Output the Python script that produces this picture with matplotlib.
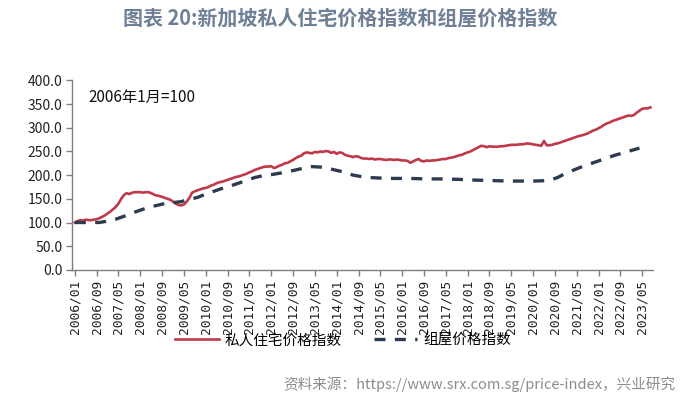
import numpy as np
import matplotlib.pyplot as plt

plt.rcParams['font.family'] = ['Noto Sans CJK SC', 'DejaVu Sans']

# --- data (2006/01 = 100) ---
# private residential price index, monthly from 2006/01
private_idx = [
    100, 103, 105, 104, 106, 105, 105, 106, 107, 109, 112, 115,  # 2006
    119, 123, 128, 133, 140, 150, 158, 162, 160, 163, 164, 164,  # 2007
    164, 163, 164, 164, 162, 159, 157, 156, 154, 152, 150, 148,  # 2008
    144, 140, 137, 136, 138, 144, 152, 163, 166, 168, 170, 172,  # 2009
    173, 175, 178, 180, 183, 185, 186, 188, 190, 192, 194, 196,  # 2010
    197, 199, 201, 203, 206, 208, 211, 213, 215, 217, 218, 218,  # 2011
    219, 215, 217, 220, 222, 225, 226, 229, 232, 236, 239, 241,  # 2012
    246, 248, 247, 246, 249, 248, 250, 249, 251, 250, 247, 249,  # 2013
    245, 248, 247, 243, 241, 240, 238, 240, 239, 236, 235, 235,  # 2014
    234, 235, 233, 234, 234, 233, 232, 233, 233, 232, 233, 232,  # 2015
    231, 231, 230, 226, 229, 232, 234, 230, 229, 231, 230, 231,  # 2016
    231, 232, 233, 234, 234, 236, 237, 238, 240, 242, 243, 246,  # 2017
    248, 250, 253, 256, 259, 262, 261, 259, 261, 260, 260, 260,  # 2018
    261, 261, 262, 263, 264, 264, 264, 265, 265, 266, 267, 266,  # 2019
    265, 264, 263, 262, 272, 263, 263, 264, 266, 267, 269, 271,  # 2020
    273, 275, 277, 279, 281, 283, 284, 286, 288, 291, 294, 296,  # 2021
    299, 302, 306, 309, 311, 314, 316, 318, 320, 322, 324, 326,  # 2022
    325, 327, 332, 336, 340, 341, 341, 343,                      # 2023
]

# HDB resale index, quarterly from 2006Q1
hdb_idx = [
    100, 100, 100, 100,   # 2006
    103, 107, 113, 120,   # 2007
    126, 132, 136, 140,   # 2008
    142, 144, 149, 153,   # 2009
    160, 166, 172, 177,   # 2010
    183, 189, 195, 199,   # 2011
    201, 204, 207, 211,   # 2012
    215, 218, 217, 214,   # 2013
    210, 206, 200, 197,   # 2014
    195, 194, 193.5, 193, # 2015
    193, 193, 192.5, 192, # 2016
    192, 192, 191.5, 191, # 2017
    190, 189.5, 189, 188.5,  # 2018
    188, 187.5, 187.5, 187.5,  # 2019
    187.5, 188, 189, 195,  # 2020
    204, 211, 218, 224,   # 2021
    230, 236, 242, 247,   # 2022
    252, 257,             # 2023
]

# x tick labels every 8 months
tick_labels = []
for k in range(27):
    m = k * 8
    tick_labels.append(f"{2006 + m // 12}/{m % 12 + 1:02d}")

title = '图表 20:新加坡私人住宅价格指数和组屋价格指数'
source = '资料来源：https://www.srx.com.sg/price-index，兴业研究'

red = '#c0394b'
navy = '#2e3b4e'
gray = '#7f7f7f'

fig = plt.figure(figsize=(7.0, 4.04), dpi=100)
ax = fig.add_axes([0.103, 0.332, 0.830, 0.469])

x_priv = np.arange(len(private_idx))
x_hdb = np.arange(len(hdb_idx)) * 3

ax.plot(x_priv, private_idx, color=red, lw=1.9, label='私人住宅价格指数')
ax.plot(x_hdb, hdb_idx, color=navy, lw=2.4, dashes=(3.3, 2.8),
        label='组屋价格指数')

ax.set_ylim(0, 400)
ax.set_yticks(np.arange(0, 401, 50))
ax.set_yticklabels([f"{v:.1f}" for v in np.arange(0, 401, 50)])
ax.set_xlim(-1, 212)
ax.set_xticks(np.arange(27) * 8)
ax.set_xticklabels(tick_labels, rotation=90, family='DejaVu Sans Mono',
                   fontsize=9.3, color='#222222')

for s in ['top', 'right']:
    ax.spines[s].set_visible(False)
for s in ['left', 'bottom']:
    ax.spines[s].set_color(gray)
    ax.spines[s].set_linewidth(1.0)
ax.tick_params(axis='both', direction='out', length=4, width=1.0, color=gray)
ax.tick_params(axis='y', labelsize=10, labelcolor='#222222', pad=3)
ax.tick_params(axis='x', pad=3)

ax.text(0.028, 0.955, '2006年1月=100', transform=ax.transAxes,
        fontsize=11, va='top', ha='left', color='#111111')

fig.text(0.486, 0.955, title, ha='center', va='center', fontsize=14.4,
         fontweight='bold', color='#6e7f96')

leg = fig.legend(loc='center', bbox_to_anchor=(0.49, 0.158), ncol=2,
                 frameon=False, fontsize=10.5, handlelength=3.0,
                 columnspacing=2.2, handletextpad=0.4)

fig.text(0.965, 0.05, source, ha='right', va='center', fontsize=10.5,
         color='#8c8c8c')

fig.savefig('out.png', dpi=100)
